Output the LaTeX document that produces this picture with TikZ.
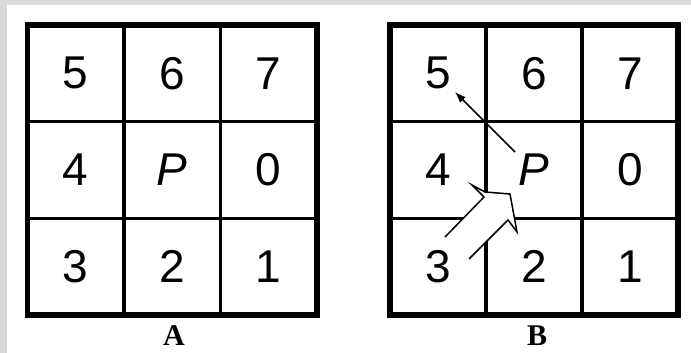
\documentclass[tikz,border=0pt]{standalone}
\usepackage{fontspec}
\setmainfont{Liberation Serif}
\setsansfont{Liberation Sans}
\usetikzlibrary{arrows.meta}
\begin{document}
\begin{tikzpicture}[x=1pt,y=-1pt,
  outer/.style={line width=5.5pt},
  inner/.style={line width=3.5pt},
  num/.style={font=\sffamily\fontsize{46}{46}\selectfont, inner sep=0pt},
  captext/.style={font=\bfseries\fontsize{30}{30}\selectfont, inner sep=0pt},
  thinline/.style={line width=1.5pt}]
\useasboundingbox (0,0) rectangle (691,353);
\fill[white] (0,0) rectangle (691,353);
\fill[black!15] (0,0) rectangle (7,353);
\fill[black!15] (0,0) rectangle (691,5);
% grid A
\draw[inner] (124,25) -- (124,315) (220.5,25) -- (220.5,315)
             (27.5,121.7) -- (317,121.7) (27.5,218.3) -- (317,218.3);
\draw[outer] (27.5,25) rectangle (317,315);
% grid B
\draw[inner] (486,25) -- (486,315) (582,25) -- (582,315)
             (390,121.7) -- (678,121.7) (390,218.3) -- (678,218.3);
\draw[outer] (390,25) rectangle (678,315);
% block arrow
\fill[white] (445,237) -- (484,197) -- (472,185) -- (485,192) -- (510,194) -- (517,232) -- (508,220) -- (469,259) -- cycle;
\draw[thinline, line join=miter] (445,237) -- (484,197) -- (472,185) -- (485,192) -- (510,194) -- (517,232) -- (508,220) -- (469,259);
% labels A
\node[num] (a5) at (75.75,73.3) {5};
\node[num] (a6) at (172.25,73.3) {6};
\node[num] (a7) at (268.75,73.3) {7};
\node[num] (a4) at (75.75,170) {4};
\node[num] (aP) at (172.25,170) {\itshape P};
\node[num] (a0) at (268.75,170) {0};
\node[num] (a3) at (75.75,266.7) {3};
\node[num] (a2) at (172.25,266.7) {2};
\node[num] (a1) at (268.75,266.7) {1};
% labels B
\node[num] (b5) at (438,73.3) {5};
\node[num] (b6) at (534,73.3) {6};
\node[num] (b7) at (630,73.3) {7};
\node[num] (b4) at (438,170) {4};
\node[num] (bP) at (534,170) {\itshape P};
\node[num] (b0) at (630,170) {0};
\node[num] (b3) at (438,266.7) {3};
\node[num] (b2) at (534,266.7) {2};
\node[num] (b1) at (630,266.7) {1};
% thin arrow
\coordinate (tP) at (515,152);
\coordinate (t5) at (455,92);
\draw[thinline, -{Latex[length=11pt,width=8pt]}] (tP) -- (t5);
\node[captext] (capA) at (174,336) {A};
\node[captext] (capB) at (537,336) {B};
\end{tikzpicture}
\end{document}
